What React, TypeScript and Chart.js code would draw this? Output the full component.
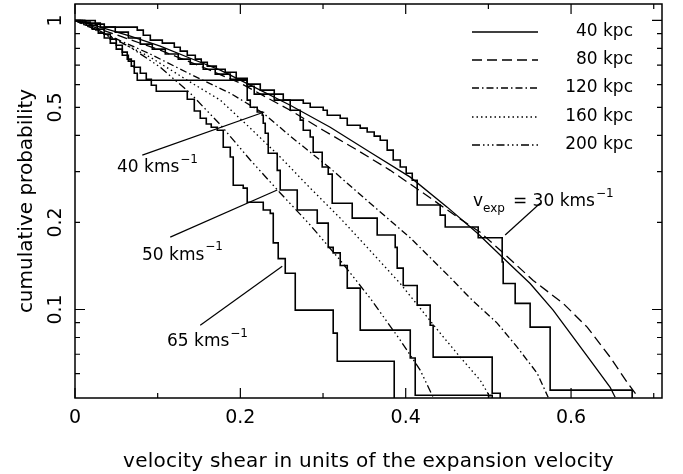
import React, { useEffect, useRef } from "react";
import { Chart, registerables } from "chart.js";

Chart.register(...registerables);

// ---------- axes ----------
const X_MIN = 0;
const X_MAX = 0.71;
const Y_MIN = 0.0494;
const Y_MAX = 1.14;

const xMajorTicks = [0, 0.2, 0.4, 0.6];
const xMinorTicks = [0.1, 0.3, 0.5, 0.7];
const xTickLabels = ["0", "0.2", "0.4", "0.6"];
const yMajorTicks = [0.1, 1];
const yMinorTicks = [0.06, 0.07, 0.08, 0.09, 0.2, 0.3, 0.4, 0.5, 0.6, 0.7, 0.8, 0.9];
const yLabelValues = [0.1, 0.2, 0.5, 1];
const yTickLabels = ["0.1", "0.2", "0.5", "1"];

const xTitle = "velocity shear in units of the expansion velocity";
const yTitle = "cumulative probability";

// ---------- model curves (line style = distance) ----------
const legendLabels = ["40 kpc", "80 kpc", "120 kpc", "160 kpc", "200 kpc"];

const m40x = [0, 0.0306, 0.0669, 0.1031, 0.1394, 0.1757, 0.212, 0.2603, 0.3087, 0.357, 0.4055, 0.4502, 0.4865, 0.5167, 0.5505, 0.5783, 0.5989, 0.6231, 0.6473, 0.6533];
const m40y = [1, 0.948, 0.882, 0.815, 0.74, 0.673, 0.597, 0.509, 0.427, 0.35, 0.287, 0.226, 0.184, 0.152, 0.123, 0.0995, 0.0828, 0.0668, 0.0538, 0.0497];

const m80x = [0, 0.0548, 0.1031, 0.1515, 0.1999, 0.2603, 0.3002, 0.3414, 0.3813, 0.4212, 0.4623, 0.4901, 0.5179, 0.5542, 0.5904, 0.6195, 0.6473, 0.6678, 0.6811];
const m80y = [1, 0.882, 0.789, 0.695, 0.607, 0.489, 0.417, 0.356, 0.303, 0.253, 0.209, 0.185, 0.157, 0.126, 0.105, 0.0869, 0.0684, 0.056, 0.0497];

const m120x = [0, 0.0427, 0.0911, 0.1394, 0.1878, 0.2277, 0.2603, 0.3087, 0.357, 0.4055, 0.4538, 0.478, 0.5106, 0.5348, 0.559, 0.5723];
const m120y = [1, 0.882, 0.765, 0.652, 0.56, 0.478, 0.398, 0.308, 0.233, 0.177, 0.129, 0.1094, 0.0897, 0.0741, 0.0602, 0.0497];

const m160x = [0, 0.0427, 0.0911, 0.1394, 0.1757, 0.212, 0.2482, 0.2845, 0.3208, 0.3534, 0.3934, 0.4417, 0.4659, 0.4901, 0.5022];
const m160y = [1, 0.875, 0.746, 0.612, 0.53, 0.424, 0.337, 0.263, 0.207, 0.164, 0.123, 0.0828, 0.0684, 0.0569, 0.0497];

const m200x = [0, 0.0306, 0.0669, 0.1031, 0.1394, 0.1757, 0.212, 0.2482, 0.2845, 0.3208, 0.357, 0.3934, 0.4175, 0.4332];
const m200y = [1, 0.918, 0.808, 0.689, 0.56, 0.436, 0.329, 0.253, 0.196, 0.148, 0.1094, 0.0783, 0.0617, 0.0497];

// ---------- observed cumulative distributions (steps) ----------
const s30x = [0, 0.0245, 0.0354, 0.0753, 0.0826, 0.0911, 0.1056, 0.1201, 0.1273, 0.1358, 0.1455, 0.1527, 0.16, 0.1709, 0.1817, 0.195, 0.2083, 0.2241, 0.241, 0.2761, 0.2845, 0.3002, 0.3051, 0.3208, 0.3293, 0.345, 0.3534, 0.3619, 0.3692, 0.3776, 0.3849, 0.3934, 0.4006, 0.4079, 0.4139, 0.4417, 0.4478, 0.4877, 0.5167, 0.5179, 0.5324, 0.5505, 0.5747, 0.6739];
const s30y = [1, 0.971, 0.948, 0.926, 0.889, 0.855, 0.835, 0.808, 0.783, 0.758, 0.735, 0.717, 0.695, 0.678, 0.662, 0.631, 0.602, 0.574, 0.53, 0.517, 0.501, 0.489, 0.47, 0.459, 0.434, 0.424, 0.411, 0.398, 0.385, 0.356, 0.329, 0.311, 0.296, 0.28, 0.23, 0.212, 0.193, 0.177, 0.146, 0.123, 0.105, 0.0869, 0.0526, 0.02];

const s40x = [0, 0.0125, 0.0306, 0.0487, 0.0645, 0.079, 0.0935, 0.1092, 0.1249, 0.1394, 0.1551, 0.1696, 0.1878, 0.2083, 0.2168, 0.2519, 0.2603, 0.2724, 0.2761, 0.2845, 0.2881, 0.299, 0.3063, 0.3111, 0.3353, 0.3655, 0.3873, 0.3897, 0.397, 0.4139, 0.4296, 0.4332, 0.5046, 0.5143];
const s40y = [1, 0.979, 0.948, 0.911, 0.869, 0.828, 0.796, 0.765, 0.735, 0.706, 0.678, 0.652, 0.626, 0.592, 0.556, 0.53, 0.489, 0.452, 0.417, 0.395, 0.35, 0.311, 0.294, 0.233, 0.207, 0.181, 0.164, 0.139, 0.121, 0.1035, 0.0882, 0.0684, 0.0513, 0.02];

const s50x = [0, 0.0088, 0.0185, 0.027, 0.0354, 0.0427, 0.0499, 0.0572, 0.0632, 0.0681, 0.0717, 0.0753, 0.2083, 0.212, 0.2204, 0.2265, 0.2277, 0.2301, 0.2337, 0.2446, 0.2482, 0.2688, 0.293, 0.3063, 0.3123, 0.3208, 0.3293, 0.345, 0.4055, 0.4115, 0.5046];
const s50y = [1, 0.987, 0.963, 0.933, 0.897, 0.862, 0.821, 0.777, 0.735, 0.695, 0.657, 0.621, 0.53, 0.501, 0.482, 0.47, 0.441, 0.407, 0.347, 0.303, 0.259, 0.221, 0.199, 0.164, 0.157, 0.142, 0.1185, 0.0848, 0.0679, 0.0505, 0.02];

const s65x = [0, 0.0064, 0.0137, 0.0209, 0.0282, 0.0354, 0.0427, 0.0499, 0.0572, 0.0645, 0.0717, 0.079, 0.0862, 0.0923, 0.0983, 0.1358, 0.1443, 0.1515, 0.1588, 0.1648, 0.1721, 0.1793, 0.1878, 0.1914, 0.2035, 0.2083, 0.2277, 0.2362, 0.2398, 0.2458, 0.2543, 0.2664, 0.3123, 0.3172, 0.3861];
const s65y = [1, 0.987, 0.963, 0.933, 0.904, 0.869, 0.835, 0.796, 0.758, 0.723, 0.689, 0.657, 0.626, 0.597, 0.569, 0.534, 0.486, 0.459, 0.438, 0.427, 0.417, 0.364, 0.337, 0.269, 0.263, 0.235, 0.221, 0.215, 0.17, 0.15, 0.1335, 0.0995, 0.0828, 0.0662, 0.02];

// ---------- label pointer lines ----------
const p40x = [0.0814, 0.2289];
const p40y = [0.342, 0.482];
const p50x = [0.1152, 0.2446];
const p50y = [0.178, 0.259];
const p65x = [0.1515, 0.2507];
const p65y = [0.0882, 0.1412];
const p30x = [0.5203, 0.5626];
const p30y = [0.181, 0.233];

const FONT = '"DejaVu Sans", "Liberation Sans", Arial, sans-serif';

const DASH_SOLID: number[] = [];
const DASH_DASHED = [10, 5];
const DASH_DASHDOT = [7, 3, 1.5, 3];
const DASH_DOTTED = [1.5, 3];
const DASH_DASH3DOT = [8, 3, 1.5, 3, 1.5, 3, 1.5, 3];
const legendDashes = [DASH_SOLID, DASH_DASHED, DASH_DASHDOT, DASH_DOTTED, DASH_DASH3DOT];

const zip = (xs: number[], ys: number[]) => xs.map((x, i) => ({ x, y: ys[i] }));

const modelLine = (label: string, xs: number[], ys: number[], dash: number[]) => ({
  label,
  data: zip(xs, ys),
  borderColor: "#000",
  borderWidth: 1.3,
  borderDash: dash,
  pointRadius: 0,
  fill: false,
  tension: 0,
});

const stepLine = (label: string, xs: number[], ys: number[]) => ({
  label,
  data: zip(xs, ys),
  borderColor: "#000",
  borderWidth: 1.6,
  pointRadius: 0,
  fill: false,
  stepped: "before" as const,
});

const pointer = (label: string, xs: number[], ys: number[]) => ({
  label,
  data: zip(xs, ys),
  borderColor: "#000",
  borderWidth: 1.2,
  pointRadius: 0,
  fill: false,
});

type Part = { t: string; size: number; dy?: number; gap?: number };

function drawParts(ctx: CanvasRenderingContext2D, x: number, y: number, parts: Part[]) {
  let cx = x;
  for (const p of parts) {
    ctx.font = `${p.size}px ${FONT}`;
    ctx.fillText(p.t, cx, y + (p.dy || 0));
    cx += ctx.measureText(p.t).width + (p.gap || 0);
  }
}

const framePlugin = {
  id: "frameAndText",
  afterDraw(chart: any) {
    const ctx: CanvasRenderingContext2D = chart.ctx;
    const a = chart.chartArea;
    const xs = chart.scales.x;
    const ys = chart.scales.y;
    ctx.save();
    ctx.setLineDash([]);
    ctx.strokeStyle = "#000";
    ctx.fillStyle = "#000";

    // frame
    ctx.lineWidth = 1.5;
    ctx.strokeRect(a.left, a.top, a.right - a.left, a.bottom - a.top);

    // ticks (inward, all four sides)
    ctx.lineWidth = 1.2;
    ctx.beginPath();
    const xTick = (v: number, len: number) => {
      const px = xs.getPixelForValue(v);
      ctx.moveTo(px, a.bottom);
      ctx.lineTo(px, a.bottom - len);
      ctx.moveTo(px, a.top);
      ctx.lineTo(px, a.top + len);
    };
    const yTick = (v: number, len: number) => {
      const py = ys.getPixelForValue(v);
      ctx.moveTo(a.left, py);
      ctx.lineTo(a.left + len, py);
      ctx.moveTo(a.right, py);
      ctx.lineTo(a.right - len, py);
    };
    xMajorTicks.forEach((v) => xTick(v, 10));
    xMinorTicks.forEach((v) => xTick(v, 5));
    yMajorTicks.forEach((v) => yTick(v, 10));
    yMinorTicks.forEach((v) => yTick(v, 5));
    ctx.stroke();

    // x tick labels
    ctx.font = `19px ${FONT}`;
    ctx.textAlign = "center";
    ctx.textBaseline = "alphabetic";
    xMajorTicks.forEach((v, i) => {
      ctx.fillText(xTickLabels[i], xs.getPixelForValue(v), 423);
    });

    // y tick labels (rotated)
    yLabelValues.forEach((v, i) => {
      const py = ys.getPixelForValue(v);
      ctx.save();
      ctx.translate(61, py);
      ctx.rotate(-Math.PI / 2);
      ctx.fillText(yTickLabels[i], 0, 0);
      ctx.restore();
    });

    // axis titles
    ctx.font = `20px ${FONT}`;
    (ctx as any).letterSpacing = "0.25px";
    ctx.fillText(xTitle, (a.left + a.right) / 2, 467);
    (ctx as any).letterSpacing = "0px";
    ctx.save();
    ctx.translate(32, (a.top + a.bottom) / 2);
    ctx.rotate(-Math.PI / 2);
    ctx.fillText(yTitle, 0, 0);
    ctx.restore();

    // legend
    const legendY = [32, 60, 88, 117, 145];
    ctx.lineWidth = 1.3;
    legendLabels.forEach((lab, i) => {
      ctx.setLineDash(legendDashes[i]);
      ctx.beginPath();
      ctx.moveTo(472, legendY[i]);
      ctx.lineTo(538, legendY[i]);
      ctx.stroke();
      ctx.setLineDash([]);
      ctx.font = `17px ${FONT}`;
      ctx.textAlign = "right";
      ctx.fillText(lab, 633, legendY[i] + 3.5);
    });

    // annotations
    ctx.textAlign = "left";
    drawParts(ctx, 117, 172, [
      { t: "40 kms", size: 17, gap: 1 },
      { t: "\u22121", size: 12, dy: -9 },
    ]);
    drawParts(ctx, 142, 260, [
      { t: "50 kms", size: 17, gap: 1 },
      { t: "\u22121", size: 12, dy: -10 },
    ]);
    drawParts(ctx, 167, 346, [
      { t: "65 kms", size: 17, gap: 1 },
      { t: "\u22121", size: 12, dy: -9 },
    ]);
    drawParts(ctx, 473, 206, [
      { t: "v", size: 17 },
      { t: "exp", size: 12, dy: 6, gap: 8 },
      { t: "= 30 kms", size: 17, gap: 1 },
      { t: "\u22121", size: 12, dy: -9 },
    ]);

    ctx.restore();
  },
};

export default function App() {
  const ref = useRef<HTMLCanvasElement>(null);
  useEffect(() => {
    if (!ref.current) return;
    const chart = new Chart(ref.current, {
      type: "line",
      data: {
        datasets: [
          modelLine(legendLabels[0], m40x, m40y, DASH_SOLID),
          modelLine(legendLabels[1], m80x, m80y, DASH_DASHED),
          modelLine(legendLabels[2], m120x, m120y, DASH_DASHDOT),
          modelLine(legendLabels[3], m160x, m160y, DASH_DOTTED),
          modelLine(legendLabels[4], m200x, m200y, DASH_DASH3DOT),
          stepLine("30 km/s", s30x, s30y),
          stepLine("40 km/s", s40x, s40y),
          stepLine("50 km/s", s50x, s50y),
          stepLine("65 km/s", s65x, s65y),
          pointer("p40", p40x, p40y),
          pointer("p50", p50x, p50y),
          pointer("p65", p65x, p65y),
          pointer("p30", p30x, p30y),
        ] as any,
      },
      options: {
        responsive: false,
        devicePixelRatio: 1,
        animation: false,
        events: [],
        layout: { padding: { left: 75, top: 4, right: 21, bottom: 76 } },
        plugins: { legend: { display: false }, tooltip: { enabled: false } },
        scales: {
          x: { type: "linear", min: X_MIN, max: X_MAX, display: false },
          y: { type: "logarithmic", min: Y_MIN, max: Y_MAX, display: false },
        },
      },
      plugins: [framePlugin],
    });
    return () => chart.destroy();
  }, []);
  return (
    <div style={{ position: "absolute", left: 0, top: 0, width: 683, height: 474, background: "#fff" }}>
      <canvas ref={ref} width={683} height={474} style={{ display: "block", width: 683, height: 474 }} />
    </div>
  );
}
